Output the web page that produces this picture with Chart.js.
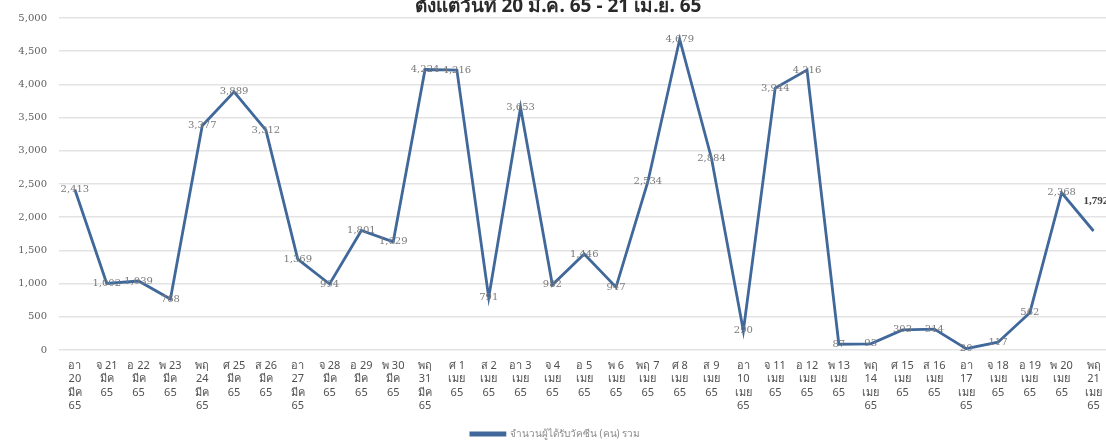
<!DOCTYPE html>
<html>
<head>
<meta charset="utf-8">
<script src="https://cdn.jsdelivr.net/npm/chart.js@4"></script>
<style>
html,body{margin:0;padding:0;background:#fff;overflow:hidden;}
#wrap{position:relative;width:1106px;height:443px;overflow:hidden;}
</style>
</head>
<body>
<div id="wrap"><canvas id="c" width="1111" height="449"></canvas></div>
<script>
const titleText = "ตั้งแต่วันที่ 20 มี.ค. 65 - 21 เม.ย. 65";
const seriesName = "จำนวนผู้ได้รับวัคซีน (คน) รวม";
const categories = [
  ["อา","20","มีค","65"],["จ 21","มีค","65"],["อ 22","มีค","65"],["พ 23","มีค","65"],
  ["พฤ","24","มีค","65"],["ศ 25","มีค","65"],["ส 26","มีค","65"],["อา","27","มีค","65"],
  ["จ 28","มีค","65"],["อ 29","มีค","65"],["พ 30","มีค","65"],["พฤ","31","มีค","65"],
  ["ศ 1","เมย","65"],["ส 2","เมย","65"],["อา 3","เมย","65"],["จ 4","เมย","65"],
  ["อ 5","เมย","65"],["พ 6","เมย","65"],["พฤ 7","เมย","65"],["ศ 8","เมย","65"],
  ["ส 9","เมย","65"],["อา","10","เมย","65"],["จ 11","เมย","65"],["อ 12","เมย","65"],
  ["พ 13","เมย","65"],["พฤ","14","เมย","65"],["ศ 15","เมย","65"],["ส 16","เมย","65"],
  ["อา","17","เมย","65"],["จ 18","เมย","65"],["อ 19","เมย","65"],["พ 20","เมย","65"],
  ["พฤ","21","เมย","65"]
];
const values = [
  2413, 1002, 1039, 768, 3377, 3889, 3312, 1369, 994, 1801, 1629, 4224,
  4216, 791, 3653, 982, 1446, 947, 2534, 4679, 2884, 290, 3944, 4216,
  87, 93, 303, 314, 20, 117, 562, 2368, 1792
];
const yTicks = [0, 500, 1000, 1500, 2000, 2500, 3000, 3500, 4000, 4500, 5000];

const fmt = v => v.toLocaleString('en-US');

const labelPlugin = {
  id: 'valueLabels',
  afterDatasetsDraw(chart) {
    const ctx = chart.ctx;
    const meta = chart.getDatasetMeta(0);
    ctx.save();
    meta.data.forEach((pt, i) => {
      const v = values[i];
      if (i === values.length - 1) {
        ctx.font = 'bold 11px "Liberation Serif", serif';
        ctx.fillStyle = '#404040';
        ctx.textAlign = 'left';
        ctx.textBaseline = 'middle';
        ctx.fillText(fmt(v), pt.x - 10, pt.y - 30);
      } else {
        ctx.font = '10px "DejaVu Serif", serif';
        ctx.fillStyle = '#7a7a7a';
        ctx.textAlign = 'center';
        ctx.textBaseline = 'middle';
        ctx.fillText(fmt(v), pt.x, pt.y);
      }
    });
    ctx.restore();
  },
  afterDraw(chart) {
    const ctx = chart.ctx;
    ctx.save();
    ctx.font = 'bold 19px "Noto Sans", sans-serif';
    ctx.fillStyle = '#2a2a2a';
    ctx.textAlign = 'center';
    ctx.textBaseline = 'middle';
    ctx.fillText(titleText, 558, 7);
    ctx.restore();
  }
};

new Chart(document.getElementById('c'), {
  type: 'line',
  data: {
    labels: categories,
    datasets: [{
      label: seriesName,
      data: values,
      borderColor: '#41689a',
      backgroundColor: '#41689a',
      borderWidth: 2.8,
      pointRadius: 0,
      tension: 0,
      fill: false
    }]
  },
  options: {
    responsive: false,
    animation: false,
    devicePixelRatio: 1,
    layout: { padding: { top: 18, right: 0, left: 0, bottom: 0 } },
    plugins: {
      legend: {
        position: 'bottom',
        labels: {
          boxWidth: 34,
          boxHeight: 2,
          color: '#8a8a8a',
          font: { size: 10, family: '"Noto Sans", sans-serif' },
          padding: 3
        }
      },
      tooltip: { enabled: false }
    },
    scales: {
      x: {
        offset: true,
        grid: { display: false, drawTicks: false },
        border: { display: false },
        afterFit: (s) => { s.height = 76; },
        ticks: {
          color: '#505050',
          font: { size: 11, family: '"Noto Sans", sans-serif', lineHeight: 1.22 },
          maxRotation: 0,
          autoSkip: false,
          padding: 9
        }
      },
      y: {
        min: 0,
        max: 5000,
        afterBuildTicks: (s) => { s.ticks = yTicks.map(v => ({ value: v })); },
        afterFit: (s) => { s.width = 59; },
        grid: { color: '#e3e3e3', lineWidth: 1.5, drawTicks: false },
        border: { display: false },
        ticks: {
          color: '#606060',
          font: { size: 10, family: '"DejaVu Serif", serif' },
          padding: 12,
          callback: v => fmt(v)
        }
      }
    }
  },
  plugins: [labelPlugin]
});
</script>
</body>
</html>
